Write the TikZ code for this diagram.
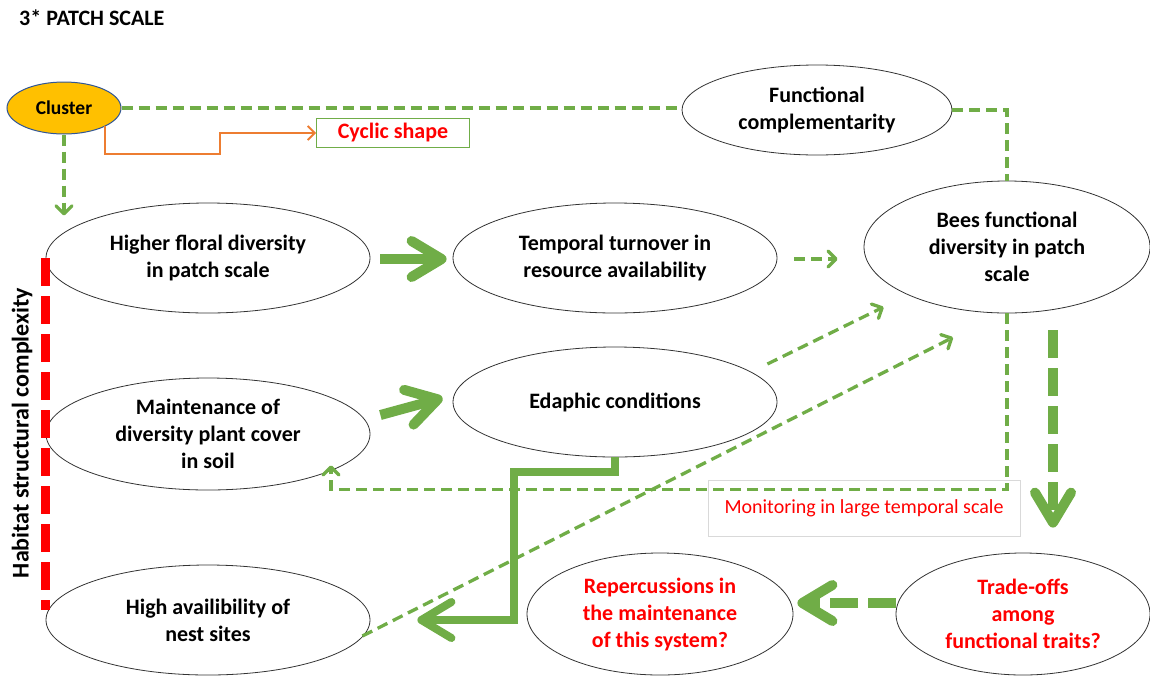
\documentclass[tikz,border=0pt]{standalone}
\usepackage{fontspec}
\setmainfont{Carlito}
\usetikzlibrary{shapes.geometric,arrows.meta,calc}
\definecolor{gr}{HTML}{70AD47}
\definecolor{orng}{HTML}{ED7D31}
\definecolor{clfill}{HTML}{FFC000}
\definecolor{clborder}{HTML}{2F5597}
\definecolor{rd}{HTML}{FF0000}
\begin{document}
\begin{tikzpicture}[x=1pt,y=-1pt,
  ell/.style={ellipse, draw=black!80, line width=0.8pt, inner sep=0pt, align=center,
    font=\bfseries\fontsize{22}{27}\selectfont},
  redtxt/.style={text=rd},
  gdash/.style={draw=gr, line width=3.3pt, dash pattern=on 11pt off 6pt},
  smallarrow/.style={gdash, -{Straight Barb[length=8pt,width=16pt,round]}},
  bigarrow/.style={draw=gr, line width=10pt, -{Straight Barb[length=30pt,width=36pt,round]}},
  bigdash/.style={bigarrow, dash pattern=on 28pt off 10pt},
  reddash/.style={draw=rd, line width=9pt, dash pattern=on 27.5pt off 10.5pt}
]
\useasboundingbox (0,0) rectangle (1150,675);

% title
\node[anchor=west, font=\bfseries\fontsize{22}{26}\selectfont, inner sep=0pt] (title) at (19,18) {3* PATCH SCALE};

% nodes
\node[ellipse, draw=clborder, fill=clfill, line width=1pt, minimum width=114pt, minimum height=52pt,
  inner sep=0pt, font=\bfseries\fontsize{19.5}{23}\selectfont] (cl) at (64,108) {Cluster};
\node[draw=gr, line width=1pt, minimum width=153pt, minimum height=29pt, inner sep=0pt,
  text=rd, font=\bfseries\fontsize{22}{26}\selectfont] (cy) at (393,133) {Cyclic shape};
\node[ell, minimum width=270pt, minimum height=90pt] (fc) at (817,110) {Functional\\complementarity};
\node[ell, minimum width=286pt, minimum height=132pt] (bf) at (1007,247) {Bees functional\\diversity in patch\\scale};
\node[ell, minimum width=324pt, minimum height=110pt] (hf) at (208,258) {Higher floral diversity\\in patch scale};
\node[ell, minimum width=324pt, minimum height=110pt] (tt) at (615,258) {Temporal turnover in\\resource availability};
\node[ell, minimum width=324pt, minimum height=112pt, inner ysep=-4pt] (mt) at (208,434) {Maintenance of\\diversity plant cover\\in soil};
\node[ell, minimum width=324pt, minimum height=110pt] (ed) at (615,402) {Edaphic conditions};
\node[ell, minimum width=324pt, minimum height=110pt] (ha) at (208,620) {High availibility of\\nest sites};
\node[ell, redtxt, minimum width=266pt, minimum height=122pt] (rp) at (660,614) {Repercussions in\\the maintenance\\of this system?};
\node[ell, redtxt, minimum width=254pt, minimum height=122pt] (to) at (1023,614) {Trade-offs\\among\\functional traits?};

\node[rotate=90, font=\bfseries\fontsize{24}{28}\selectfont, inner sep=0pt] (hsc) at (22,433) {Habitat structural complexity};

\node[draw=black!15, fill=white, line width=0.8pt, minimum width=312pt, minimum height=56pt, inner sep=0pt,
  text=rd, font=\fontsize{20}{24}\selectfont] (mon) at (864,508) {Monitoring in large temporal scale};

% connectors
\draw[gdash] (cl.east) -- (cl.east -| fc.west);
\draw[gdash] (fc.east) -| (bf.north);
\coordinate (clend) at ($(cl.south)+(0,81)$);
\draw[smallarrow] (cl.south) -- (clend);
\draw[orng, line width=1.8pt, -{Straight Barb[length=7pt,width=14pt]}]
  ($(cl.center)+(41,18)$) -- ++(0,28) -- ++(115,0) |- (cy.west);

\draw[bigarrow] ($(hf.east)+(10,1)$) -- ($(tt.west)+(-6,1)$);
\draw[bigarrow] ($(mt.east)+(10,-19)$) -- ($(ed.west)+(-10,-4)$);
\draw[smallarrow] ($(tt.east)+(17,1)$) -- ($(bf.west)+(-26,12)$);
\draw[smallarrow] ($(ed.east)+(-10,-38)$) -- ($(bf.west)+(20,60)$);
\draw[smallarrow] ($(ha.east)+(-8,16)$) -- ($(bf.south)+(-54,24)$);
\draw[smallarrow] (bf.south) -- ++(0,176) -| ($(mt.south)+(123,-25)$);
\draw[draw=gr, line width=8pt, -{Straight Barb[length=30pt,width=36pt,round]}]
  (ed.south) -- ++(0,15) -- ++(-101,0) |- ($(ha.east)+(47,0)$);
\draw[bigdash] ($(bf.south)+(46,17)$) -- ($(to.north)+(30,-25)$);
\draw[bigdash] ($(to.west)+(0,-11)$) -- ($(rp.east)+(4,-11)$);

\draw[reddash] (hf.west) -- ($(ha.west)+(0,-10)$);
\end{tikzpicture}
\end{document}
